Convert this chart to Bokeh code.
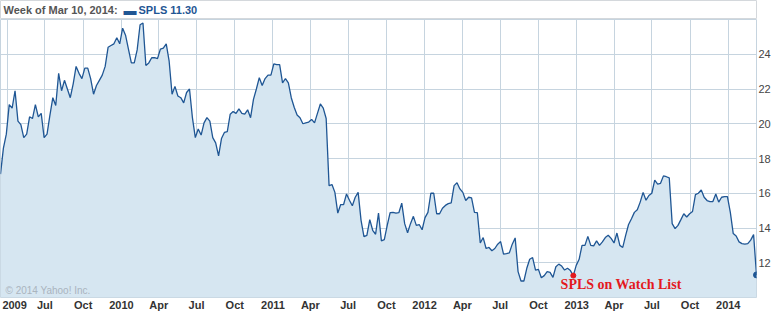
import pandas as pd
from bokeh.plotting import figure
from bokeh.layouts import column
from bokeh.models import Range1d, FixedTicker, Label
from bokeh.embed import file_html
from bokeh.resources import INLINE

# ---------------- data ----------------
first_week = "2009-03-16"
close = [
    17.1, 18.6, 19.4, 21.1, 20.9, 21.9, 20.15, 19.95, 19.2, 19.4,
    20.4, 20.3, 21.1, 20.4, 20.6, 19.2, 19.4, 20.5, 21.5, 21.05,
    22.9, 21.9, 22.5, 22.0, 21.5, 22.3, 23.3, 22.9, 22.6, 23.2,
    23.2, 22.6, 21.7, 22.2, 22.5, 22.8, 23.3, 24.4, 24.5, 24.6,
    24.95, 24.6, 25.5, 25.1, 24.3, 23.5, 23.5, 24.25, 25.7, 25.8,
    23.35, 23.5, 23.8, 23.8,
    23.75, 24.3, 24.35, 24.6, 23.6, 21.7, 22.15, 21.6, 21.5, 21.2,
    21.8, 22.0, 20.35, 19.2, 19.7, 19.35, 20.05, 20.35, 20.15, 19.2,
    18.9, 18.15, 19.15, 19.5, 19.55, 20.55, 20.7, 20.6, 20.85, 20.6,
    20.55, 20.8, 20.35, 21.4, 22.0, 22.65, 22.2, 22.6, 22.8, 22.8,
    23.45, 23.4, 23.4, 22.35, 22.6, 22.35, 21.5, 20.95, 20.5, 20.35,
    20.0,
    20.05, 20.1, 20.25, 20.05, 20.6, 21.14, 20.9, 20.3, 16.44, 16.5,
    16.05, 14.86, 15.35, 15.35, 15.96, 15.6, 15.28, 15.77, 16.05, 14.44,
    13.5, 13.58, 14.48, 13.87, 13.64, 14.86, 13.26, 13.33, 14.15, 14.88,
    14.9, 14.86, 14.88, 15.43, 14.25, 13.73, 14.25, 14.67, 14.15, 14.2,
    13.9, 14.6, 14.9, 16.0, 16.0, 14.82, 14.82, 15.14, 15.3, 15.4,
    15.45, 16.44,
    16.6, 16.25, 16.05, 15.58, 15.77, 15.73, 14.9, 14.88, 13.14, 13.45,
    12.82, 12.88, 12.69, 12.82, 13.07, 13.22, 12.5, 12.53, 12.57, 13.07,
    13.43, 11.49, 10.95, 10.95, 11.68, 12.2, 12.3, 11.58, 11.62, 11.14,
    11.26, 11.49, 11.45, 11.16, 11.77, 11.92, 11.81, 11.58, 11.68, 11.55,
    11.26, 11.85, 12.2, 13.0, 13.0, 13.52, 13.0, 12.97, 13.26, 13.0,
    13.2, 13.45,
    13.58, 13.4, 13.14, 13.71, 13.0, 12.88, 13.58, 14.2, 14.53, 14.9,
    15.05, 15.49, 16.05, 15.6, 15.87, 16.0, 16.76, 16.53, 16.57, 17.0,
    16.95, 16.88, 14.25, 13.96, 14.15, 14.48, 14.82, 14.63, 14.82, 14.95,
    15.92, 16.0, 16.19, 15.77, 15.58, 15.52, 15.52, 15.96, 15.49, 15.77,
    15.81, 15.81, 14.9, 13.68, 13.54, 13.2, 13.1, 13.07, 13.1, 13.3,
    13.62, 11.30,
]

grid_dates = [
    "2009-04-01", "2009-07-01", "2009-10-01",
    "2010-01-01", "2010-04-01", "2010-07-01", "2010-10-01",
    "2011-01-01", "2011-04-01", "2011-07-01", "2011-10-01",
    "2012-01-01", "2012-04-01", "2012-07-01", "2012-10-01",
    "2013-01-01", "2013-04-01", "2013-07-01", "2013-10-01",
    "2014-01-01",
]
# first label is drawn shifted right so that it stays inside the chart
label_dates = ["2009-04-19"] + grid_dates[1:]
tick_labels = [
    "2009", "Jul", "Oct",
    "2010", "Apr", "Jul", "Oct",
    "2011", "Apr", "Jul", "Oct",
    "2012", "Apr", "Jul", "Oct",
    "2013", "Apr", "Jul", "Oct",
    "2014",
]
y_ticks = [12, 14, 16, 18, 20, 22, 24]
y_min, y_max = 10, 26

header_text = "Week of Mar 10, 2014:"
series_text = "SPLS 11.30"
watch_date = "2012-12-24"
watch_text = "SPLS on Watch List"
copyright_text = "\u00a9 2014 Yahoo! Inc."

# ---------------- styling ----------------
LINE = "#1f5694"
FILL = "#d6e6f1"
GRID = "#c6d4df"
RED = "#e3191e"
FONT = "Liberation Sans"

dates = pd.date_range(first_week, periods=len(close), freq="7D")
watch_ts = pd.Timestamp(watch_date)
watch_val = close[list(dates).index(watch_ts)]


def ms(d):
    return int(pd.Timestamp(d).value // 10**6)


# ---------------- header strip ----------------
h = figure(
    width=774, height=19,
    x_range=Range1d(0, 1), y_range=Range1d(0, 1),
    x_axis_location=None, y_axis_location=None,
    output_backend="svg", toolbar_location=None,
    min_border_left=0, min_border_right=18,
    min_border_top=0, min_border_bottom=0,
)
h.grid.visible = False
h.outline_line_color = "#d4d8dc"
h.background_fill_color = "white"
h.border_fill_color = "white"
h.add_layout(Label(x=3, y=9.5, x_units="screen", y_units="screen",
                   text=header_text, text_font=FONT, text_font_style="bold",
                   text_font_size="11px", text_color="#555555",
                   text_baseline="middle"))
h.add_layout(Label(x=123, y=9.5, x_units="screen", y_units="screen",
                   text="\u25ac", text_font=FONT, text_font_size="13px",
                   text_color=LINE, text_baseline="middle"))
h.add_layout(Label(x=138, y=9.5, x_units="screen", y_units="screen",
                   text=series_text, text_font=FONT, text_font_style="bold",
                   text_font_size="11px", text_color=LINE,
                   text_baseline="middle"))

# ---------------- main chart ----------------
p = figure(
    width=774, height=294,
    x_axis_type="datetime", y_axis_location="right",
    x_range=Range1d(dates[0], dates[-1]),
    y_range=Range1d(y_min, y_max),
    output_backend="svg", toolbar_location=None,
    min_border_left=0, min_border_right=18,
    min_border_top=0, min_border_bottom=14,
)
p.background_fill_color = "white"
p.border_fill_color = "white"
p.outline_line_color = GRID
p.outline_line_width = 1

p.varea(x=dates, y1=y_min, y2=close, fill_color=FILL)
p.line(x=dates, y=close, line_color=LINE, line_width=1.3)
p.scatter(x=[dates[-1]], y=[close[-1]], size=6, color=LINE)
p.scatter(x=[watch_ts], y=[watch_val], size=5, color=RED)

label_ms = [ms(d) for d in label_dates]
grid_ms = [ms(d) for d in grid_dates]

xa = p.xaxis[0]
xa.ticker = FixedTicker(ticks=label_ms)
xa.major_label_overrides = {t: l for t, l in zip(label_ms, tick_labels)}
xa.axis_line_color = None
xa.major_tick_line_color = None
xa.minor_tick_line_color = None
xa.major_tick_out = 0
xa.major_label_standoff = 1
xa.major_label_text_font = FONT
xa.major_label_text_font_style = "bold"
xa.major_label_text_font_size = "11px"
xa.major_label_text_color = "#333333"

ya = p.yaxis[0]
ya.ticker = FixedTicker(ticks=y_ticks)
ya.axis_line_color = None
ya.major_tick_line_color = None
ya.minor_tick_line_color = None
ya.major_tick_out = 0
ya.major_label_standoff = 2
ya.major_label_text_font = FONT
ya.major_label_text_font_size = "11px"
ya.major_label_text_color = "#444444"

p.xgrid.ticker = FixedTicker(ticks=grid_ms)
p.ygrid.ticker = FixedTicker(ticks=y_ticks)
p.xgrid.grid_line_color = GRID
p.ygrid.grid_line_color = GRID

p.add_layout(Label(x=5, y=7.5, x_units="screen", y_units="screen",
                   text=copyright_text, text_font=FONT,
                   text_font_size="10px", text_color="#aab4be",
                   text_baseline="middle"))

p.add_layout(Label(x=watch_ts, y=watch_val, text=watch_text,
                   x_offset=-12.7, y_offset=-9,
                   text_font="Liberation Serif", text_font_style="bold",
                   text_font_size="14px", text_color=RED,
                   text_baseline="middle"))

layout = column(h, p, spacing=0)
open("out.html", "w").write(file_html(layout, INLINE))
